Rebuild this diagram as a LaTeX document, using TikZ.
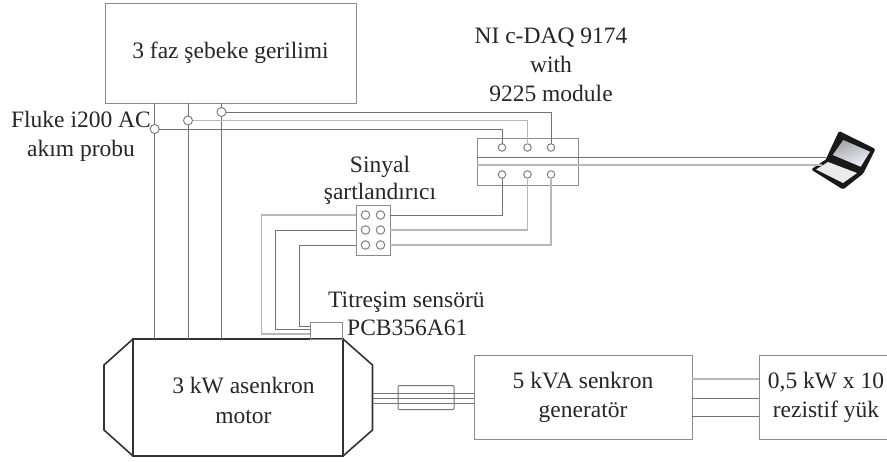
\documentclass[tikz,border=0pt]{standalone}
\usepackage{fontspec}
\setmainfont{Liberation Serif}
\usetikzlibrary{positioning}

\begin{document}
\begin{tikzpicture}[x=1pt,y=-1pt]
\tikzset{
  caption/.style={text centered, text=black!85, font=\fontsize{23.5}{29}\selectfont, align=center, inner sep=0pt},
  unit/.style={rectangle,draw=black!45,line width=1pt,inner sep=0pt,outer sep=0pt,text=black!85,text centered,align=center,font=\fontsize{23.5}{29}\selectfont},
  coupling/.style={unit,rounded corners=1pt,draw=black!55,minimum width=56pt,minimum height=24pt},
  machine/.style={rectangle,draw=black!80,line width=1.6pt,inner sep=0pt,outer sep=0pt},
  port/.style={circle,draw=black!50,line width=1pt,fill=white,inner sep=0pt,outer sep=0pt,minimum size=7.5pt,on grid},
  probe/.style={port,minimum size=9pt},
  wire/.style={draw=black!55,line width=1pt},
  lightwire/.style={draw=black!28,line width=1.2pt},
}
\useasboundingbox (0,0) rectangle (887,461);
% supply, probes
\node[unit,minimum width=251pt,minimum height=100pt] (supply) at (230.5,53) {3 faz şebeke gerilimi};
\node[probe] (probeA) at (154.7,129) {};
\node[probe] (probeB) at (188,120.5) {};
\node[probe] (probeC) at (221.5,112) {};
\node[caption] (probetext) at (81,136.5) {Fluke i200 AC\\akım probu};
% machines
\node[machine,minimum width=210pt,minimum height=117pt] (motor) at (238,397.5) {};
\node[caption,font=\fontsize{23.5}{30}\selectfont] (motortext) at (243.5,400) {3 kW asenkron\\motor};
\node[unit,minimum width=218pt,minimum height=84pt,right=131pt of motor] (generator) {5 kVA senkron\\generatör};
\node[coupling,right=55pt of motor] (shaftbox) {};
\node[unit,minimum width=134pt,minimum height=84pt,right=67pt of generator] (load) {0,5 kW x 10\\rezistif yük};
\node[unit,minimum width=32pt,minimum height=17pt,above left=0pt and 1pt of motor.north east,anchor=south east] (sensor) {};
\node[caption,anchor=west,font=\fontsize{23.5}{28}\selectfont,align=left] (sensortext) at (328,314) {Titreşim sensörü\\\hspace*{19pt}PCB356A61};
% motor end caps
\draw[machine] (motor.north west) -- (104,365) -- (104,430) -- (motor.south west);
\draw[machine] (motor.north east) -- (372.5,365) -- (372.5,430) -- (motor.south east);
\coordinate (capright) at (372.5,398);
% DAQ
\node[unit,minimum width=101pt,minimum height=47pt] (daq) at (527.5,161.5) {};
\node[caption] (daqtext) at (551,65) {NI c-DAQ 9174\\with\\9225 module};
\node[port] (daqA) at (502,147.5) {};
\node[port,right=25.5pt of daqA] (daqB) {};
\node[port,right=49pt of daqA] (daqC) {};
\node[port] (daqD) at (502,174.5) {};
\node[port,right=25.5pt of daqD] (daqE) {};
\node[port,right=49pt of daqD] (daqF) {};
% signal conditioner
\node[unit,minimum width=34pt,minimum height=50pt] (signal) at (373,230) {};
\node[caption,font=\fontsize{23.5}{27}\selectfont] (signaltext) at (380,180) {Sinyal\\şartlandırıcı};
\node[port,minimum size=8.5pt] (sigA) at (365.5,215) {};
\node[port,minimum size=8.5pt,right=15pt of sigA] (sigB) {};
\node[port,minimum size=8.5pt,below=15pt of sigA] (sigC) {};
\node[port,minimum size=8.5pt,right=15pt of sigC] (sigD) {};
\node[port,minimum size=8.5pt,below=15pt of sigC] (sigE) {};
\node[port,minimum size=8.5pt,right=15pt of sigE] (sigF) {};
% laptop
\coordinate (laptopA) at (826,157.7);
\coordinate (laptopB) at (822,165);
\fill[black!90,rounded corners=1.5pt] (839,131) -- (875.5,149) -- (863,174) -- (825,161) -- cycle;
\shade[left color=black!35,right color=blue!6,shading angle=20] (843.3,140) -- (870,151.7) -- (860.7,166.7) -- (832.7,155) -- cycle;
\fill[black!90,rounded corners=1.5pt] (811,169.5) -- (826.5,159) -- (864,173) -- (843,189.5) -- cycle;
\fill[black!8] (816,169.5) -- (828,162) -- (857,173) -- (843,183) -- cycle;
% current wires
\path[wire] (supply.south -| probeA) -- (probeA);
\path[wire] (supply.south -| probeB) -- (probeB);
\path[wire] (supply.south -| probeC) -- (probeC);
\path[wire] (probeA) -- (probeA |- motor.north);
\path[wire] (probeB) -- (probeB |- motor.north);
\path[wire] (probeC) -- (probeC |- motor.north);
\path[wire] (probeA) -| (daqA);
\path[lightwire] (probeB) -| (daqB);
\path[wire] (probeC) -| (daqC);
% laptop wires
\path[wire] (daq.west |- 0,157.7) -- (laptopA);
\path[lightwire] (daq.west |- 0,165) -- (laptopB);
% signal wires
\path[wire] (daqD) |- (sigB -| signal.east);
\path[lightwire] (daqE) |- (sigD -| signal.east);
\path[lightwire] (daqF) |- (sigF -| signal.east);
\coordinate (wireA) at (261.7,334);
\coordinate (wireB) at (275.7,329.5);
\coordinate (wireC) at (299,326);
\path[lightwire] (sigA -| signal.west) -| (wireA) -- (wireA -| sensor.west);
\path[wire] (sigC -| signal.west) -| (wireB) -- (wireB -| sensor.west);
\path[wire] (sigE -| signal.west) -| (wireC) -- (wireC -| sensor.west);
% shaft
\path[wire] (capright |- 0,393.3) -- (generator.west |- 0,393.3);
\path[wire] (capright |- 0,398.3) -- (generator.west |- 0,398.3);
\path[wire] (capright |- 0,403.3) -- (generator.west |- 0,403.3);
% load wires
\path[lightwire] (generator.east |- 0,379) -- (load.west |- 0,379);
\path[wire] (generator.east |- 0,398) -- (load.west |- 0,398);
\path[wire] (generator.east |- 0,416) -- (load.west |- 0,416);
\end{tikzpicture}
\end{document}
